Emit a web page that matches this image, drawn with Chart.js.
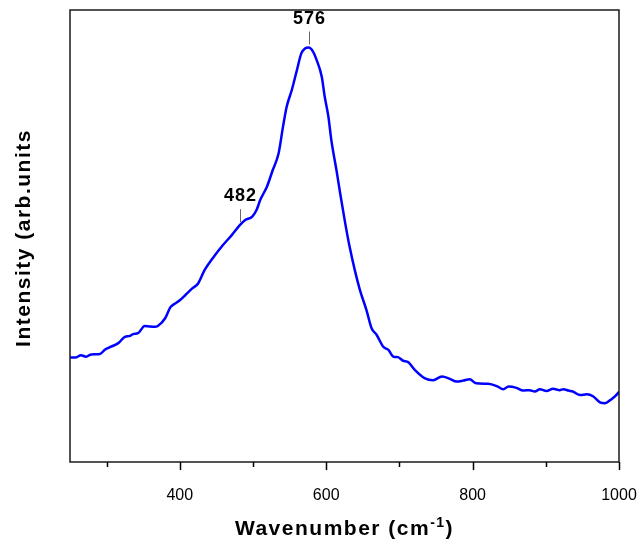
<!DOCTYPE html>
<html>
<head>
<meta charset="utf-8">
<script src="https://cdn.jsdelivr.net/npm/chart.js@4/dist/chart.umd.min.js"></script>
<style>
  html, body { margin: 0; padding: 0; background: #fff; }
  #wrap { width: 639px; height: 539px; }
</style>
</head>
<body>
<div id="wrap"><canvas id="c" width="639" height="539"></canvas></div>
<script>
// Spectrum: wavenumber (cm-1) and intensity (arbitrary units)
const wavenumber = [
  250, 257, 265, 272, 279, 291, 298, 306, 316, 325, 332, 336, 343, 352, 366, 370,
  380, 387, 393, 400, 408, 417, 425, 434, 445, 459, 471, 482, 489, 499, 505, 510,
  519, 527, 535, 541, 546, 553, 560, 566, 571, 576, 582, 587, 594, 598, 603, 607,
  614, 619, 626, 632, 639, 646, 655, 662, 669, 678, 685, 692, 698, 705, 712, 721,
  735, 746, 758, 769, 778, 787, 796, 805, 821, 833, 842, 849, 860, 869, 878, 885,
  892, 901, 910, 919, 924, 931, 937, 947, 956, 965, 974, 981, 988, 999, 1000
];
const intensity = [
  231, 231, 236, 233, 238, 239, 249, 255, 263, 277, 279, 283, 285, 301, 299, 301,
  318, 342, 350, 358, 370, 384, 395, 425, 451, 480, 502, 524, 535, 543, 558, 580,
  609, 646, 683, 742, 786, 823, 867, 904, 915, 917, 908, 889, 852, 808, 764, 712,
  646, 595, 528, 476, 425, 381, 336, 296, 281, 255, 248, 233, 232, 224, 221, 204,
  185, 181, 189, 184, 178, 180, 183, 174, 173, 168, 161, 167, 164, 158, 159, 156,
  161, 157, 162, 159, 161, 158, 156, 148, 150, 145, 132, 130, 137, 153, 156
];
// Tick positions on the wavenumber axis
const majorTicks = [400, 600, 800, 1000];
const minorTicks = [300, 500, 700, 900];
// Labelled band positions
const bandLabels = [576, 482];

const FONT = '"Liberation Sans", Arial, sans-serif';

function curveAt(w) {
  for (let i = 1; i < wavenumber.length; i++) {
    if (wavenumber[i] >= w) {
      const t = (w - wavenumber[i - 1]) / (wavenumber[i] - wavenumber[i - 1]);
      return intensity[i - 1] + t * (intensity[i] - intensity[i - 1]);
    }
  }
  return intensity[intensity.length - 1];
}

const decorations = {
  id: 'decorations',
  afterDraw(chart) {
    const ctx = chart.ctx;
    const a = chart.chartArea;
    const xs = chart.scales.x;
    const ys = chart.scales.y;
    ctx.save();

    // frame
    ctx.strokeStyle = '#1a1a1a';
    ctx.lineWidth = 1.5;
    ctx.strokeRect(a.left, a.top, a.right - a.left, a.bottom - a.top);

    // outward tick marks
    ctx.lineWidth = 1.5;
    ctx.strokeStyle = '#000';
    const tick = (v, len) => {
      const x = Math.round(xs.getPixelForValue(v)) + 0.5;
      ctx.beginPath();
      ctx.moveTo(x, a.bottom);
      ctx.lineTo(x, a.bottom + len);
      ctx.stroke();
    };
    majorTicks.forEach(v => tick(v, 8));
    minorTicks.forEach(v => tick(v, 5));

    // band labels with leader lines
    bandLabels.forEach(w => {
      const x = Math.round(xs.getPixelForValue(w)) + 0.5;
      const y = ys.getPixelForValue(curveAt(w));
      const y1 = y - 3, y0 = y1 - 13;
      ctx.strokeStyle = '#666';
      ctx.lineWidth = 1;
      ctx.beginPath();
      ctx.moveTo(x, y0);
      ctx.lineTo(x, y1);
      ctx.stroke();
      ctx.fillStyle = '#000';
      ctx.font = 'bold 18px ' + FONT;
      ctx.letterSpacing = '1px';
      ctx.textAlign = 'center';
      ctx.textBaseline = 'alphabetic';
      ctx.fillText(String(w), x, y0 - 8);
    });

    // x axis title with superscript
    ctx.fillStyle = '#000';
    ctx.textAlign = 'left';
    ctx.textBaseline = 'alphabetic';
    ctx.letterSpacing = '1.5px';
    const main = 'Wavenumber (cm';
    const sup = '-1';
    const close = ')';
    ctx.font = 'bold 21px ' + FONT;
    const wMain = ctx.measureText(main).width;
    const wClose = ctx.measureText(close).width;
    ctx.font = 'bold 14px ' + FONT;
    const wSup = ctx.measureText(sup).width;
    const total = wMain + wSup + wClose;
    let cx = (a.left + a.right) / 2 - total / 2;
    const base = 535;
    ctx.font = 'bold 21px ' + FONT;
    ctx.fillText(main, cx, base);
    cx += wMain;
    ctx.font = 'bold 14px ' + FONT;
    ctx.fillText(sup, cx, base - 8);
    cx += wSup;
    ctx.font = 'bold 21px ' + FONT;
    ctx.fillText(close, cx, base);

    // y axis title
    ctx.save();
    ctx.translate(30, (a.top + a.bottom) / 2 + 2);
    ctx.rotate(-Math.PI / 2);
    ctx.textAlign = 'center';
    ctx.font = 'bold 21px ' + FONT;
    ctx.fillText('Intensity (arb.units', 0, 0);
    ctx.restore();

    ctx.restore();
  }
};

new Chart(document.getElementById('c'), {
  type: 'line',
  data: {
    datasets: [{
      data: wavenumber.map((w, i) => ({ x: w, y: intensity[i] })),
      borderColor: '#0000ff',
      borderWidth: 2.5,
      pointRadius: 0,
      fill: false,
      cubicInterpolationMode: 'monotone'
    }]
  },
  options: {
    responsive: false,
    animation: false,
    devicePixelRatio: 1,
    layout: { padding: { left: 70, right: 20, top: 10, bottom: 0 } },
    plugins: { legend: { display: false }, tooltip: { enabled: false } },
    scales: {
      x: {
        type: 'linear',
        min: 250,
        max: 1000,
        grid: { display: false },
        border: { display: false },
        afterBuildTicks: s => { s.ticks = majorTicks.map(v => ({ value: v })); },
        afterFit: s => { s.height = 77; s.paddingLeft = 0; s.paddingRight = 0; },
        ticks: {
          color: '#000',
          padding: 16,
          maxRotation: 0,
          font: { family: FONT, size: 16 },
          callback: v => String(v)
        }
      },
      y: {
        display: false,
        min: 0,
        max: 1000
      }
    }
  },
  plugins: [decorations]
});
</script>
</body>
</html>
